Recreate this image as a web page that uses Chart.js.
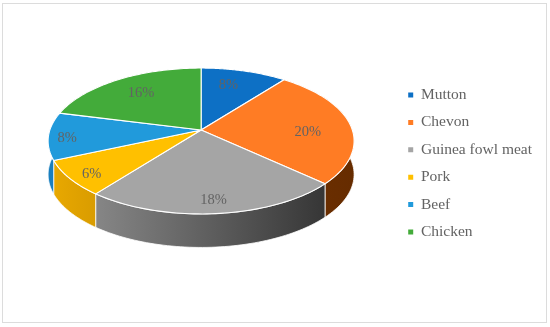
<!DOCTYPE html>
<html>
<head>
<meta charset="utf-8">
<script src="https://cdn.jsdelivr.net/npm/chart.js@4/dist/chart.umd.min.js"></script>
<style>
  body { margin: 0; background: #fff; }
  #wrap { position: relative; width: 550px; height: 327px; }
  #frame { position: absolute; left: 2px; top: 3px; width: 543px; height: 318px; border: 1.5px solid #dcdcdc; }
  canvas { position: absolute; left: 0; top: 0; }
</style>
</head>
<body>
<div id="wrap">
  <div id="frame"></div>
  <canvas id="chartCanvas" width="550" height="327"></canvas>
</div>
<script>
const categories = ['Mutton', 'Chevon', 'Guinea fowl meat', 'Pork', 'Beef', 'Chicken'];
const shares = [8, 20, 18, 6, 8, 16];
const topColors = ['#0d70c5', '#ff7c24', '#a5a5a5', '#ffc000', '#219adb', '#43ab3a'];
const sideLeftColors = ['#0a5a9e', '#6e3000', '#868686', '#e8a800', '#1a80c0', '#2f8029'];
const sideRightColors = ['#0a5a9e', '#662c00', '#363636', '#d99c00', '#1a7ab8', '#2f8029'];

const labelFont = '14.5px "Liberation Serif"';
const textColor = '#636363';

// the pie is tilted: a flat disc seen in perspective, with a rim below it
const tilt = { k: 0.1507, xScale: 0.925, yScale: 0.436, lift: 33.5, depth: 33.5 };

// small hand nudges so the percent labels sit where the original has them
const labelNudgeX = [-4, 2, 0, 2, -3, 0];
const labelNudgeY = [-2, 6, 0, 3, 3, 0];

function project(arc, angle, r, drop) {
    const u = r * Math.cos(angle);
    const v = r * Math.sin(angle);
    const w = 1 - tilt.k * v;
    return {
        x: arc.x + arc.outerRadius * tilt.xScale * u / w,
        y: arc.y - tilt.lift + arc.outerRadius * tilt.yScale * v / w + drop
    };
}

function rimPoints(arc, drop, reverse) {
    const pts = [];
    const steps = 60;
    for (let i = 0; i <= steps; i++) {
        const t = reverse ? 1 - i / steps : i / steps;
        pts.push(project(arc, arc.startAngle + (arc.endAngle - arc.startAngle) * t, 1, drop));
    }
    return pts;
}

const tiltedPie = {
    id: 'tiltedPie',
    beforeDatasetDraw(chart, args) {
        const ctx = chart.ctx;
        const arcs = chart.getDatasetMeta(args.index).data;
        ctx.save();
        ctx.lineJoin = 'round';

        // rim first, the top surface covers whatever faces away
        arcs.forEach((arc, i) => {
            const pts = rimPoints(arc, 0, false).concat(rimPoints(arc, tilt.depth, true));
            const xs = pts.map(p => p.x);
            const grad = ctx.createLinearGradient(Math.min(...xs), 0, Math.max(...xs), 0);
            grad.addColorStop(0, sideLeftColors[i]);
            grad.addColorStop(1, sideRightColors[i]);
            ctx.beginPath();
            pts.forEach((p, n) => n ? ctx.lineTo(p.x, p.y) : ctx.moveTo(p.x, p.y));
            ctx.closePath();
            ctx.fillStyle = grad;
            ctx.fill();
            ctx.strokeStyle = '#fff';
            ctx.lineWidth = 0.8;
            ctx.stroke();
        });

        arcs.forEach((arc, i) => {
            const apex = project(arc, 0, 0, 0);
            ctx.beginPath();
            ctx.moveTo(apex.x, apex.y);
            rimPoints(arc, 0, false).forEach(p => ctx.lineTo(p.x, p.y));
            ctx.closePath();
            ctx.fillStyle = topColors[i];
            ctx.fill();
            ctx.strokeStyle = '#fff';
            ctx.lineWidth = 1.1;
            ctx.stroke();
        });

        ctx.font = labelFont;
        ctx.fillStyle = textColor;
        ctx.textAlign = 'center';
        ctx.textBaseline = 'middle';
        arcs.forEach((arc, i) => {
            const mid = (arc.startAngle + arc.endAngle) / 2;
            const r = Math.sin(mid) > 0 ? 0.86 : 0.7;
            const p = project(arc, mid, r, 0);
            ctx.fillText(shares[i] + '%', p.x + labelNudgeX[i], p.y + labelNudgeY[i]);
        });

        ctx.restore();
        return false; // default flat arcs are not wanted
    }
};

new Chart(document.getElementById('chartCanvas'), {
    type: 'doughnut',
    data: {
        labels: categories,
        datasets: [{ data: shares, backgroundColor: topColors, borderWidth: 0 }]
    },
    options: {
        responsive: false,
        animation: false,
        cutout: 0,
        layout: { padding: { left: 5.9, right: 8, top: 0, bottom: 0 } },
        plugins: {
            tooltip: { enabled: false },
            legend: {
                position: 'right',
                labels: {
                    boxWidth: 5,
                    boxHeight: 5,
                    padding: 11.9,
                    color: textColor,
                    font: { family: '"Liberation Serif"', size: 15.5 }
                }
            }
        }
    },
    plugins: [tiltedPie]
});
</script>
</body>
</html>
